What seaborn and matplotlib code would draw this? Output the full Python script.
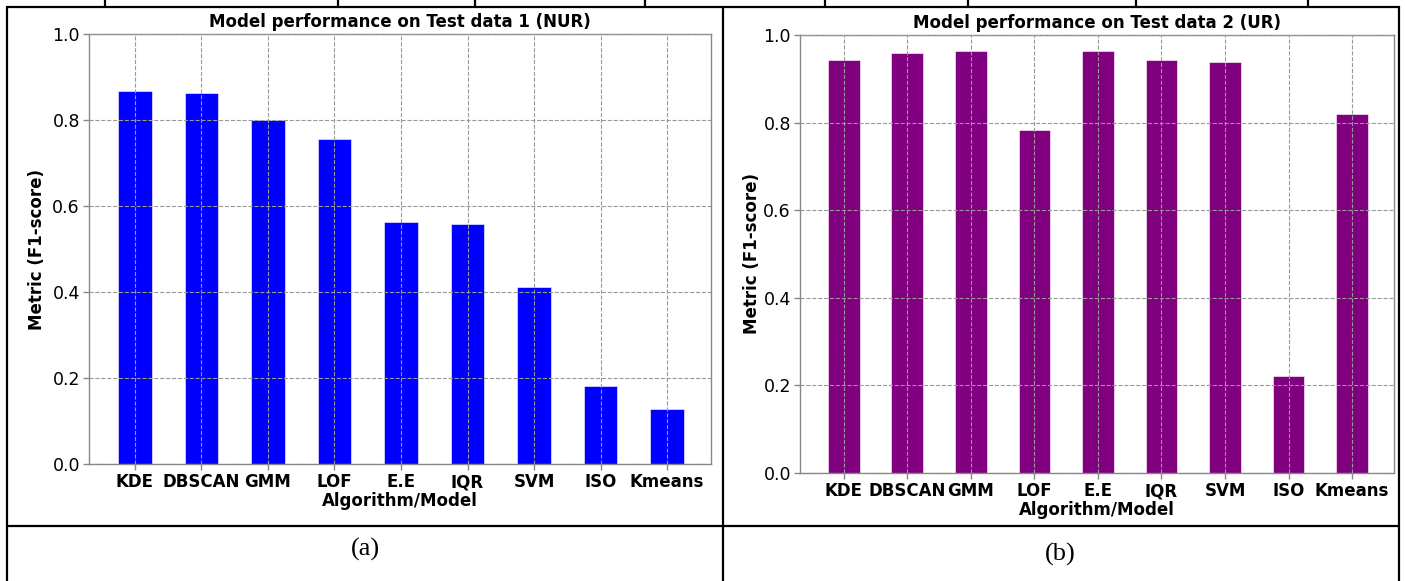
import matplotlib
matplotlib.use("Agg")
import matplotlib.pyplot as plt
from matplotlib.lines import Line2D
import seaborn as sns

models = ["KDE", "DBSCAN", "GMM", "LOF", "E.E", "IQR", "SVM", "ISO", "Kmeans"]
f1_test1 = [0.867, 0.863, 0.800, 0.756, 0.563, 0.558, 0.411, 0.181, 0.129]
f1_test2 = [0.943, 0.959, 0.963, 0.783, 0.963, 0.943, 0.938, 0.221, 0.820]
titles = ["Model performance on Test data 1 (NUR)", "Model performance on Test data 2 (UR)"]
captions = ["(a)", "(b)"]
yticks = [0.0, 0.2, 0.4, 0.6, 0.8, 1.0]

sns.set_style("white")
plt.rcParams["font.family"] = ["DejaVu Sans"]
plt.rcParams["text.color"] = "black"
plt.rcParams["axes.labelcolor"] = "black"

W, H = 1405, 581
fig = plt.figure(figsize=(W / 100, H / 100), dpi=100)
fig.patch.set_facecolor("white")


def px_axes(x0, y0, x1, y1):
    return fig.add_axes([x0 / W, 1 - y1 / H, (x1 - x0) / W, (y1 - y0) / H])


def hline(y, x0, x1):
    fig.add_artist(Line2D([x0 / W, x1 / W], [1 - y / H, 1 - y / H], color="black", lw=1.6,
                          transform=fig.transFigure, solid_capstyle="butt"))


def vline(x, y0, y1):
    fig.add_artist(Line2D([x / W, x / W], [1 - y0 / H, 1 - y1 / H], color="black", lw=1.6,
                          transform=fig.transFigure, solid_capstyle="butt"))


# table frame
hline(7, 6, 1400)
hline(526, 6, 1400)
vline(7, 6, 581)
vline(723, 6, 581)
vline(1399, 6, 581)
for x in [105, 338, 475, 645, 825, 968, 1136, 1308]:
    vline(x, 0, 7)

axes_px = [(89, 34, 711, 464), (800, 35, 1394, 473)]
colors = ["blue", "purple"]
datas = [f1_test1, f1_test2]
ylabel_x = [46, 761]

for i in range(2):
    ax = px_axes(*axes_px[i])
    sns.barplot(x=models, y=datas[i], color=colors[i], saturation=1, width=0.5, ax=ax,
                edgecolor="white", linewidth=0.4)
    ax.set_xlim(-0.69, 8.66)
    ax.set_ylim(0, 1.0)
    ax.set_yticks(yticks)
    ax.set_yticklabels([f"{v:.1f}" for v in yticks], fontsize=12.5)
    ax.set_xticks(range(len(models)))
    ax.set_xticklabels(models, fontsize=12, fontweight="bold")
    ax.set_axisbelow(False)
    ax.grid(True, linestyle="--", color="#999999", linewidth=0.8)
    for s in ax.spines.values():
        s.set_color("#888888")
        s.set_linewidth(1.0)
    ax.tick_params(axis="both", colors="#888888", labelcolor="black", length=4, width=1,
                   bottom=True, left=True, pad=2.5)
    ax.set_title(titles[i], fontsize=12, fontweight="bold", pad=5, color="black")
    ax.set_xlabel("Algorithm/Model", fontsize=12, fontweight="bold", labelpad=1, color="black")
    ax.set_ylabel("Metric (F1-score)", fontsize=12, fontweight="bold", color="black")
    ax.yaxis.set_label_coords((ylabel_x[i] - axes_px[i][0]) / (axes_px[i][2] - axes_px[i][0]), 0.5)

fig.text(365 / W, 1 - 549 / H, captions[0], fontsize=19, family="Liberation Serif",
         ha="center", va="center", color="black")
fig.text(1060 / W, 1 - 554 / H, captions[1], fontsize=19, family="Liberation Serif",
         ha="center", va="center", color="black")

fig.savefig("out.png", dpi=100, facecolor="white")
